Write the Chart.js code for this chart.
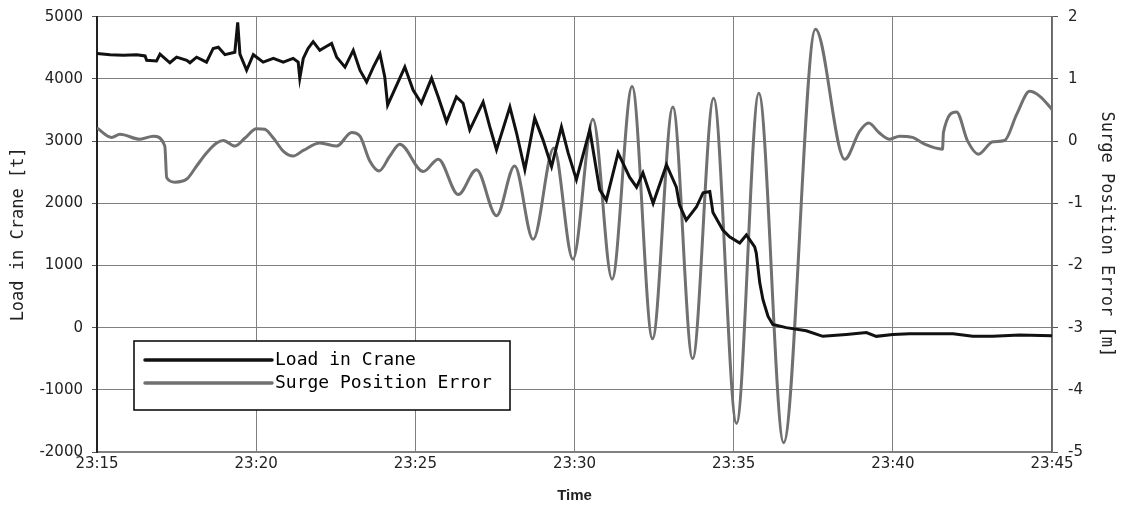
<!DOCTYPE html>
<html>
<head>
<meta charset="utf-8">
<script src="https://cdn.jsdelivr.net/npm/chart.js@4/dist/chart.umd.min.js"></script>
<style>
  body { margin: 0; background: #fff; }
  #wrap { width: 1121px; height: 505px; }
</style>
</head>
<body>
<div id="wrap"><canvas id="chart" width="1121" height="505"></canvas></div>
<script>
// minutes after 23:15
const xTickLabels = ['23:15', '23:20', '23:25', '23:30', '23:35', '23:40', '23:45'];

const loadTime = [0, 0.41, 0.83, 1.25, 1.51, 1.56, 1.87, 1.98, 2.29, 2.50, 2.82, 2.92, 3.13, 3.44, 3.65, 3.81,
  4.02, 4.33, 4.42, 4.49, 4.70, 4.91, 5.22, 5.54, 5.85, 6.16, 6.32, 6.37, 6.48, 6.63, 6.79, 7.00, 7.16, 7.37,
  7.53, 7.79, 8.05, 8.26, 8.47, 8.68, 8.89, 9.04, 9.13, 9.30, 9.67, 9.93, 10.19, 10.51, 10.72, 10.98, 11.29,
  11.50, 11.71, 12.13, 12.34, 12.55, 12.97, 13.18, 13.44, 13.75, 14.01, 14.28, 14.59, 14.80, 15.06, 15.48,
  15.79, 16.00, 16.37, 16.73, 16.95, 17.15, 17.47, 17.89, 18.20, 18.30, 18.51, 18.83, 19.04, 19.25, 19.35,
  19.66, 19.87, 20.19, 20.40, 20.66, 20.71, 20.82, 20.92, 21.08, 21.23, 21.65, 22.28, 22.80, 23.54, 24.17,
  24.48, 25.00, 25.53, 26.89, 27.51, 28.14, 28.98, 30.00];
const loadValue = [4410, 4390, 4380, 4390, 4370, 4300, 4290, 4400, 4260, 4350, 4300, 4260, 4350, 4270, 4490, 4510,
  4390, 4430, 4910, 4400, 4140, 4390, 4270, 4330, 4270, 4330, 4270, 4010, 4330, 4490, 4600, 4460, 4510, 4570,
  4350, 4190, 4460, 4140, 3950, 4190, 4400, 4030, 3580, 3770, 4190, 3820, 3610, 4010, 3710, 3310, 3710,
  3610, 3180, 3630, 3230, 2860, 3550, 3130, 2540, 3370, 3020, 2590, 3230, 2810, 2380, 3180,
  2220, 2050, 2810, 2420, 2260, 2490, 2000, 2620, 2260, 1970, 1730, 1940, 2170, 2190, 1850,
  1570, 1460, 1360, 1490, 1300, 1200, 720, 450, 180, 50, 0, -50, -140, -110, -80,
  -140, -110, -100, -100, -140, -140, -120, -130];

const surgeTime = [0, 0.46, 0.72, 1.35, 1.77, 2.13, 2.19, 2.45, 2.82, 3.13, 3.44, 3.76, 3.97, 4.33, 4.65, 5.01,
  5.27, 5.54, 5.85, 6.16, 6.48, 7.00, 7.53, 8.00, 8.26, 8.57, 8.86, 9.20, 9.51, 10.25, 10.72, 11.35, 11.92,
  12.55, 13.12, 13.70, 14.35, 14.95, 15.58, 16.18, 16.81, 17.45, 18.09, 18.71, 19.37, 20.09, 20.79, 21.57,
  22.57, 23.49, 23.96, 24.24, 24.58, 24.90, 25.21, 25.62, 26.00, 26.56, 26.59, 27.00, 27.35, 27.69, 28.14,
  28.51, 28.89, 29.30, 29.62, 30.00];
const surgeValue = [0.21, 0.06, 0.11, 0.03, 0.08, -0.08, -0.59, -0.66, -0.61, -0.40, -0.19, -0.03, 0.01, -0.08, 0.05, 0.20,
  0.19, 0.05, -0.16, -0.24, -0.15, -0.03, -0.08, 0.14, 0.08, -0.32, -0.48, -0.24, -0.05, -0.49, -0.29, -0.86, -0.46,
  -1.20, -0.40, -1.58, -0.11, -1.90, 0.35, -2.22, 0.88, -3.18, 0.55, -3.50, 0.69, -4.54, 0.77, -4.85,
  1.80, -0.29, 0.16, 0.29, 0.13, 0.03, 0.08, 0.06, -0.05, -0.13, 0.14, 0.47, 0.00, -0.21, -0.01,
  0.01, 0.43, 0.80, 0.72, 0.51];

const loadPoints = loadTime.map((t, i) => ({ x: t, y: loadValue[i] }));
const surgePoints = surgeTime.map((t, i) => ({ x: t, y: surgeValue[i] }));

// legend box drawn inside the plot, like the original
const boxLegend = {
  id: 'boxLegend',
  afterDraw(chart) {
    const ctx = chart.ctx;
    const x = 134, y = 341, w = 376, h = 69;
    ctx.save();
    ctx.fillStyle = '#fff';
    ctx.fillRect(x, y, w, h);
    ctx.strokeStyle = '#000';
    ctx.lineWidth = 1.5;
    ctx.strokeRect(x, y, w, h);
    ctx.font = '18px "DejaVu Sans Mono"';
    ctx.textBaseline = 'middle';
    chart.data.datasets.forEach((ds, i) => {
      const ly = y + 19 + i * 23;
      ctx.strokeStyle = ds.borderColor;
      ctx.lineWidth = 3.5;
      ctx.lineCap = 'round';
      ctx.beginPath();
      ctx.moveTo(x + 11, ly);
      ctx.lineTo(x + 138, ly);
      ctx.stroke();
      ctx.fillStyle = '#000';
      ctx.fillText(ds.label, x + 141, ly);
    });
    ctx.restore();
  }
};

const tickFont = { family: 'DejaVu Sans', size: 15 };
const yTickFont = { family: 'DejaVu Sans', size: 15, lineHeight: 0.9 };

new Chart(document.getElementById('chart'), {
  type: 'line',
  data: {
    datasets: [
      {
        label: 'Load in Crane',
        data: loadPoints,
        yAxisID: 'y',
        borderColor: '#111111',
        borderWidth: 3,
        tension: 0,
        pointRadius: 0
      },
      {
        label: 'Surge Position Error',
        data: surgePoints,
        yAxisID: 'y1',
        borderColor: '#707070',
        borderWidth: 3,
        cubicInterpolationMode: 'monotone',
        pointRadius: 0
      }
    ]
  },
  options: {
    responsive: false,
    animation: false,
    layout: { padding: { top: 16, left: 0, right: 0, bottom: 0 } },
    plugins: {
      legend: { display: false },
      tooltip: { enabled: false }
    },
    scales: {
      x: {
        type: 'linear',
        min: 0,
        max: 30,
        ticks: {
          stepSize: 5,
          color: '#222',
          font: tickFont,
          padding: 3,
          maxRotation: 0,
          callback: (v) => xTickLabels[v / 5]
        },
        grid: { color: '#808080', lineWidth: 1, drawTicks: false },
        border: { color: '#808080', width: 1.5 },
        title: {
          display: true,
          text: 'Time',
          color: '#222',
          font: { family: 'Liberation Sans', size: 15, weight: 'bold' },
          padding: { top: 8, bottom: 0 }
        },
        afterFit: (s) => { s.height = 53; }
      },
      y: {
        position: 'left',
        min: -2000,
        max: 5000,
        ticks: {
          stepSize: 1000,
          color: '#222',
          font: yTickFont,
          padding: 9,
          callback: (v) => String(v)
        },
        grid: { color: '#808080', lineWidth: 1, tickLength: 5, tickColor: '#555' },
        border: { color: '#222', width: 2 },
        title: {
          display: true,
          text: 'Load in Crane [t]',
          color: '#222',
          font: { family: 'DejaVu Sans Mono', size: 17 },
          padding: { top: 8, bottom: 4 }
        },
        afterFit: (s) => { s.width = 97; }
      },
      y1: {
        position: 'right',
        min: -5,
        max: 2,
        ticks: {
          stepSize: 1,
          color: '#222',
          font: yTickFont,
          padding: 10,
          callback: (v) => String(v)
        },
        grid: { drawOnChartArea: false, tickLength: 6, tickColor: '#555' },
        border: { color: '#666', width: 1.5 },
        title: {
          display: true,
          text: 'Surge Position Error [m]',
          color: '#222',
          font: { family: 'DejaVu Sans Mono', size: 17 },
          padding: { top: 4, bottom: 0 }
        },
        afterFit: (s) => { s.width = 69; }
      }
    }
  },
  plugins: [boxLegend]
});
</script>
</body>
</html>
